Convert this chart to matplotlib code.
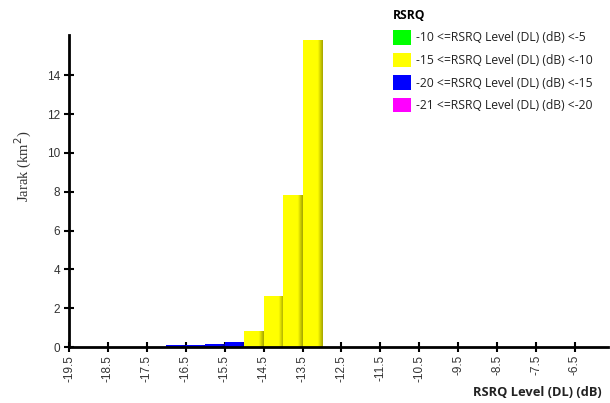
import matplotlib
matplotlib.use("Agg")
import matplotlib.pyplot as plt
import numpy as np
from matplotlib.patches import Patch
from matplotlib.colors import to_rgb

# Data
bin_centers = [-16.75, -16.25, -15.75, -15.25, -14.75, -14.25, -13.75, -13.25]
area_km2 = [0.07, 0.10, 0.15, 0.25, 0.80, 2.60, 7.80, 15.80]
bin_width = 0.5
x_ticks = [-19.5, -18.5, -17.5, -16.5, -15.5, -14.5, -13.5, -12.5, -11.5, -10.5, -9.5, -8.5, -7.5, -6.5]
y_ticks = [0, 2, 4, 6, 8, 10, 12, 14]
legend_labels = ["-10 <=RSRQ Level (DL) (dB) <-5",
                 "-15 <=RSRQ Level (DL) (dB) <-10",
                 "-20 <=RSRQ Level (DL) (dB) <-15",
                 "-21 <=RSRQ Level (DL) (dB) <-20"]
legend_colors = ["#00FF00", "#FFFF00", "#0000FF", "#FF00FF"]
category_lower = [-10, -15, -20, -21]

def bar_color(x):
    for lo, c in zip(category_lower, legend_colors):
        if x >= lo:
            return c
    return legend_colors[-1]

fig = plt.figure(figsize=(6.10, 4.03), dpi=100)
ax = fig.add_axes([69/610, 1-347/403, 539/610, 312/403])

xmin, xmax = -19.5, -5.65
ymin, ymax = 0, 16.08

for xc, v in zip(bin_centers, area_km2):
    c = np.array(to_rgb(bar_color(xc)))
    left = xc - bin_width/2
    right = xc + bin_width/2
    n = 40
    t = np.linspace(0, 1, n)
    shade = np.where(t < 0.75, 1.0, 1.0 - (t - 0.75) / 0.25 * 0.35)
    img = (c[None, :] * shade[:, None])[None, :, :]
    ax.imshow(img, extent=(left, right, 0, v), aspect='auto', origin='lower',
              interpolation='bilinear', zorder=2)

ax.set_xlim(xmin, xmax)
ax.set_ylim(ymin, ymax)

for s in ['top', 'right']:
    ax.spines[s].set_visible(False)
for s in ['left', 'bottom']:
    ax.spines[s].set_linewidth(2)
    ax.spines[s].set_color('black')
    ax.spines[s].set_zorder(3)

ax.set_xticks(x_ticks)
ax.set_xticklabels([f"{t:g}" for t in x_ticks], rotation=90, fontsize=8.5,
                   color='#333333', family='Liberation Sans')
ax.set_yticks(y_ticks)
ax.set_yticklabels([str(t) for t in y_ticks], fontsize=8.5, color='#333333',
                   family='Liberation Sans')
ax.tick_params(axis='both', direction='inout', length=7, width=1.5, color='black', pad=2)
ax.tick_params(axis='y', pad=3)

fig.text(23/610, 1-166/403, "Jarak (km$^2$)", rotation=90, ha='center', va='center',
         fontsize=10.5, family='Liberation Serif', color='#333333')
fig.text(602/610, 1-392/403, "RSRQ Level (DL) (dB)", ha='right', va='center',
         fontsize=9.3, fontweight='bold', family='Open Sans', color='#222222')

handles = [Patch(facecolor=c, edgecolor='none') for c in legend_colors]
leg = ax.legend(handles, legend_labels, title="RSRQ", loc='upper left',
                bbox_to_anchor=(393/610, 1-9/403), bbox_transform=fig.transFigure,
                frameon=False, handlelength=1.45, handleheight=1.45, handletextpad=0.45,
                labelspacing=0.68, borderpad=0, borderaxespad=0, alignment='left',
                prop={'family': 'Open Sans', 'size': 8.7})
leg.get_title().set_fontweight('bold')
leg.get_title().set_fontsize(8.7)
leg.get_title().set_family('Open Sans')
for t in leg.get_texts():
    t.set_color('#222222')

fig.savefig("out.png", dpi=100)
